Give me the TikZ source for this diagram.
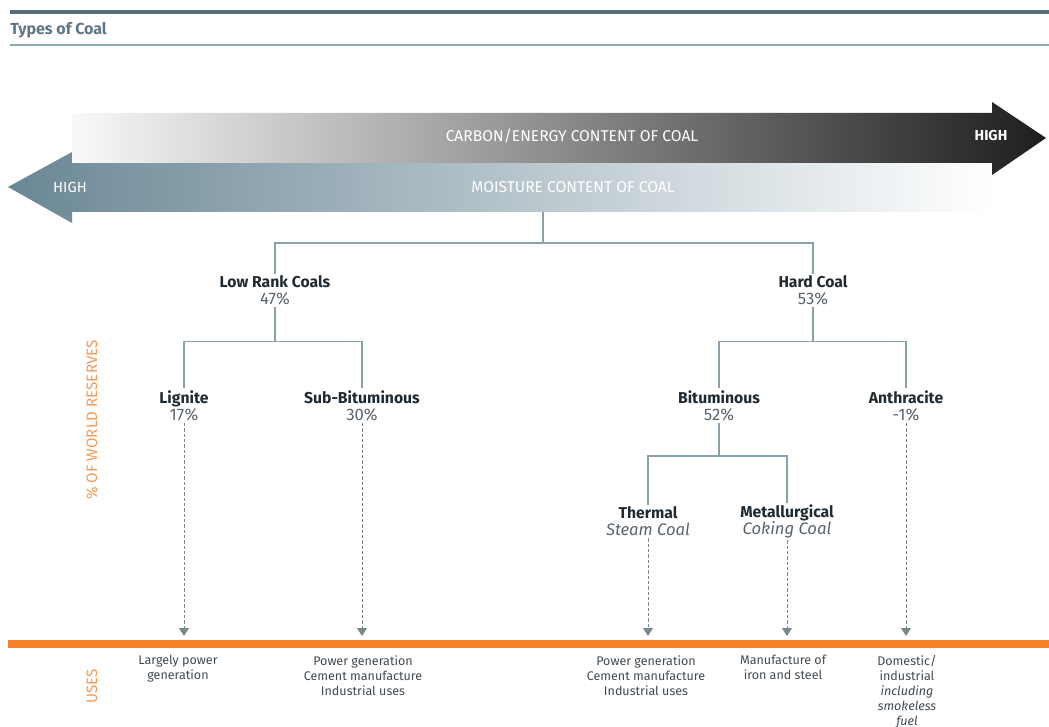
\documentclass[tikz,border=0pt]{standalone}
\usepackage{fontspec}
\setmainfont{Fira Sans}
\usetikzlibrary{positioning,arrows.meta}
\definecolor{barColor}{HTML}{526F7A}
\definecolor{titleColor}{HTML}{5D7785}
\definecolor{ruleColor}{HTML}{8FA8AD}
\definecolor{treeColor}{HTML}{8AA1A8}
\definecolor{useColor}{HTML}{F58025}
\definecolor{axisColor}{HTML}{F49A55}
\definecolor{nameColor}{HTML}{1F2A33}
\definecolor{shareColor}{HTML}{5A646D}
\definecolor{moistColor}{HTML}{6A8795}
\definecolor{carbonColor}{HTML}{1E1E1E}
\tikzstyle{pixels} = [x=.75pt, y=-.75pt]
\tikzstyle{treeLine} = [color=treeColor, line width=.9pt]
\tikzstyle{useArrow} = [color=treeColor!85!black, line width=.75pt, dash pattern=on 2.5pt off 1.5pt, -{Triangle[width=7.5pt,length=6pt]}]
\tikzstyle{coalStyle} = [align=center, font=\fontsize{12.5}{12.75}\selectfont, text=shareColor, inner sep=1.5pt]
\tikzstyle{useText} = [align=center, font=\fontsize{9.4}{11.25}\selectfont, text=nameColor!85, anchor=north, inner sep=0pt]
\tikzstyle{arrowText} = [text=white, font=\fontsize{11.7}{13}\selectfont]
\tikzstyle{axisText} = [text=axisColor, rotate=90, font=\fontsize{11.4}{13}\selectfont]
\newcommand{\coalNode}[4]{\node [coalStyle] (#1) at (#2) {\textcolor{nameColor}{\fontsize{11.8}{12.75}\selectfont\bfseries #3}\\#4};}

\begin{document}
\begin{tikzpicture}[pixels]
\useasboundingbox (0,0) rectangle (1049,727);
% heading
\fill [barColor] (10,10) rectangle (1049,14.5);
\node [anchor=base west, inner sep=0, text=titleColor, font=\fontsize{12}{14}\selectfont\bfseries] (title) at (10,35) {Types of Coal};
\draw [ruleColor, line width=1.1pt] (10,45) -- (1049,45);
% moisture arrow (pointing left), then carbon arrow on top
\shade [left color=moistColor, middle color=moistColor!62, right color=white] (8,187) -- (72,152) -- (72,163) -- (993,163) -- (993,212) -- (72,212) -- (72,223) -- cycle;
\shade [left color=gray!5, middle color=black!38, right color=carbonColor] (72,113) -- (992,113) -- (992,102) -- (1046,138) -- (992,175) -- (992,163) -- (72,163) -- cycle;
\node [arrowText] (carbon) at (572,136) {CARBON/ENERGY CONTENT OF COAL};
\node [arrowText, font=\fontsize{10.8}{12}\selectfont\bfseries] (carbonHigh) at (991,136) {HIGH};
\node [arrowText] (moisture) at (573,187) {MOISTURE CONTENT OF COAL};
\node [arrowText, font=\fontsize{11}{12}\selectfont] (moistureHigh) at (70,187) {HIGH};
% side labels
\node [axisText] (reserves) at (92,420) {\% OF WORLD RESERVES};
\node [axisText] (uses) at (92,686) {USES};
% coal tree
\coordinate (moistBase) at (543,212);
\coordinate (rootFork) at (543,243);
\coalNode{low}{275,290.5}{Low Rank Coals}{47\%}
\coalNode{hard}{813,290.5}{Hard Coal}{53\%}
\draw [treeLine] (moistBase) -- (rootFork);
\draw [treeLine] (low.north) |- (rootFork) -| (hard.north);
\coalNode{lig}{184,405.5}{Lignite}{17\%}
\coalNode{sub}{362,405.5}{Sub-Bituminous}{30\%}
\draw [treeLine] (low.south) -- ++(0,34) coordinate (lowFork);
\draw [treeLine] (lig.north) |- (lowFork) -| (sub.north);
\coalNode{bit}{719,405.5}{Bituminous}{52\%}
\coalNode{anth}{906,405.5}{Anthracite}{-1\%}
\draw [treeLine] (hard.south) -- ++(0,34) coordinate (hardFork);
\draw [treeLine] (bit.north) |- (hardFork) -| (anth.north);
\coalNode{thermal}{648,521.5}{Thermal}{\textit{Steam Coal}}
\coalNode{met}{787,521.5}{Metallurgical}{\textit{Coking Coal}}
\draw [treeLine] (bit.south) -- ++(0,33) coordinate (bitFork);
\draw [treeLine] (thermal.north) |- (bitFork) -| (met.north);
% uses
\fill [useColor] (8,640) rectangle (1049,648);
\coordinate (useTop) at (0,636);
\foreach \coal in {lig,sub,thermal,met,anth}
  \draw [useArrow] (\coal.south) -- (\coal.south |- useTop);
\node [useText] (ligUse) at (178,655) {Largely power\\generation};
\node [useText] (subUse) at (363,655) {Power generation\\Cement manufacture\\Industrial uses};
\node [useText] (thermalUse) at (646,655) {Power generation\\Cement manufacture\\Industrial uses};
\node [useText] (metUse) at (783,655) {Manufacture of\\iron and steel};
\node [useText] (anthUse) at (907,655) {Domestic/\\industrial\\\textit{including}\\\textit{smokeless}\\\textit{fuel}};
\end{tikzpicture}
\end{document}
